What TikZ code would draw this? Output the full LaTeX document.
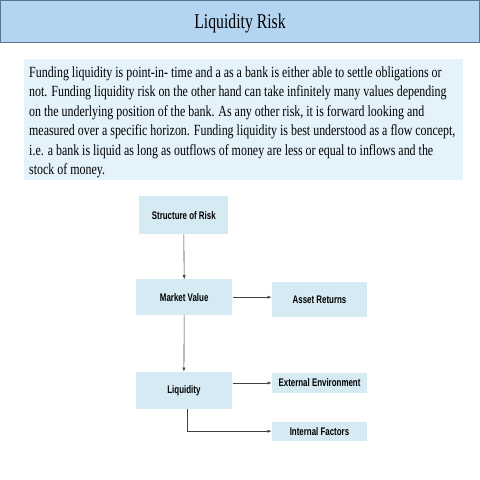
\documentclass[tikz,border=0pt]{standalone}
\usepackage{fontspec}
\setmainfont{Liberation Serif}
\newfontfamily\boxfont[FakeStretch=0.72]{Liberation Sans}
\newfontfamily\bodyfont[FakeStretch=0.77]{Liberation Serif}
\newfontfamily\headfont[FakeStretch=0.75]{Liberation Serif}
\usetikzlibrary{arrows.meta}
\definecolor{barblue}{HTML}{B4D5F2}
\definecolor{barline}{HTML}{5A7690}
\definecolor{textblue}{HTML}{E3F2FB}
\definecolor{boxblue}{HTML}{D5EAF2}
\tikzset{
  box/.style={fill=boxblue, minimum width=95.6pt, inner sep=0pt, font=\boxfont\bfseries\fontsize{11}{13}\selectfont},
  link/.style={draw=black!75, line width=0.6pt, -{Latex[length=4pt,width=3.2pt]}}
}
\begin{document}
\begin{tikzpicture}[x=1pt,y=-1pt]
\useasboundingbox (0,0) rectangle (480,480);
\fill[white] (0,0) rectangle (480,480);

\draw[barline, fill=barblue, line width=1pt] (0.5,0.5) rectangle (479.5,42);
\node[inner sep=0pt, font=\headfont\fontsize{21}{24}\selectfont] (title) at (240,23.5) {Liquidity Risk};

\fill[textblue] (24,59) rectangle (463,180);
\node[anchor=north west, align=left, inner sep=0pt, font=\bodyfont\fontsize{15.5}{19.4}\selectfont] (text) at (29,66.5) {Funding liquidity is point-in- time and a as a bank is either able to settle obligations or\\
not. Funding liquidity risk on the other hand can take infinitely many values depending\\
on the underlying position of the bank. As any other risk, it is forward looking and\\
measured over a specific horizon. Funding liquidity is best understood as a flow concept,\\
i.e. a bank is liquid as long as outflows of money are less or equal to inflows and the\\
stock of money.};

\node[box, minimum width=89pt, minimum height=38pt] (risk) at (183.8,215.2) {Structure of Risk};
\node[box, minimum height=35.7pt] (mv) at (184.2,297.2) {Market Value};
\node[box, minimum height=35pt] (ret) at (319.5,299.8) {Asset Returns};
\node[box, minimum height=37.3pt] (liq) at (183.9,390.4) {Liquidity};
\node[box, minimum height=19.4pt] (ext) at (319.5,383) {External Environment};
\node[box, minimum height=19pt] (int) at (319.5,431.2) {Internal Factors};

\path[link] (risk.south) -- (mv.north);
\path[link] (mv.south) -- (liq.north);
\path[link] ([xshift=1pt]mv.east) -- (mv.east -| ret.west);
\path[link] ([xshift=1pt]liq.east |- ext.west) -- (ext.west);
\path[link] ([xshift=3.5pt]liq.south) |- (int.west);
\end{tikzpicture}
\end{document}
